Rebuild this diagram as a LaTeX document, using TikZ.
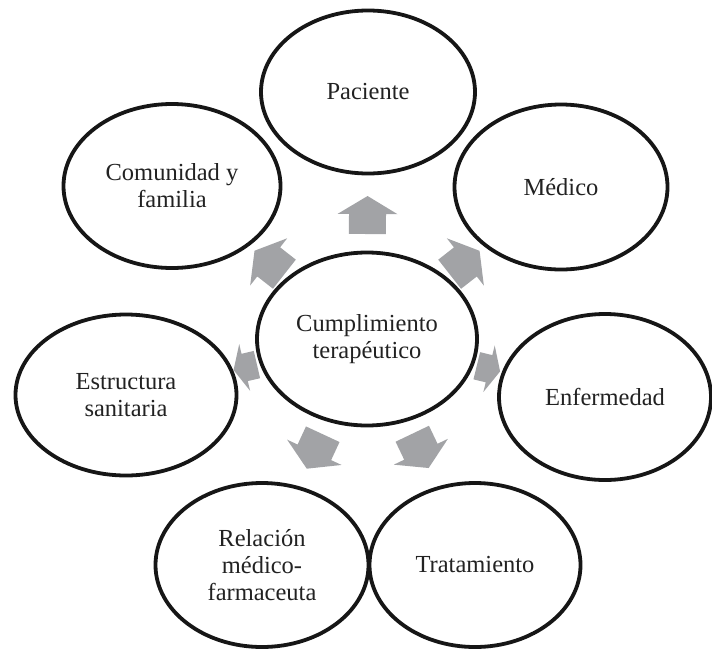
\documentclass[tikz,border=0pt]{standalone}
\usepackage{fontspec}
\setmainfont{Liberation Serif}
\usetikzlibrary{shapes.geometric,calc,backgrounds}
\definecolor{arrgray}{RGB}{162,163,166}
\definecolor{inkline}{RGB}{22,22,22}
\definecolor{inktext}{RGB}{34,34,34}
\tikzset{
  bubble/.style={ellipse, draw=inkline, line width=3.8pt, fill=white, inner sep=0pt,
    align=center, text=inktext, font=\fontsize{24.5}{27}\selectfont},
  blockarrow/.style={fill=arrgray, draw=none}
}
\begin{document}
\begin{tikzpicture}[x=1pt,y=-1pt]
\useasboundingbox (0,0) rectangle (712,648);
\node[bubble, minimum width=220pt, minimum height=173pt] (ctr) at (367,339) {Cumplimiento\\terapéutico};
\node[bubble, minimum width=214pt, minimum height=163pt] (pac) at (368,92) {Paciente};
\node[bubble, minimum width=213pt, minimum height=165pt] (med) at (561,187) {Médico};
\node[bubble, minimum width=212pt, minimum height=166pt] (enf) at (605,397) {Enfermedad};
\node[bubble, minimum width=211pt, minimum height=164pt] (tra) at (475,565) {Tratamiento};
\node[bubble, minimum width=213pt, minimum height=164pt] (rel) at (262,565) {Relación\\médico-\\farmaceuta};
\node[bubble, minimum width=221pt, minimum height=161pt] (est) at (126,395) {Estructura\\sanitaria};
\node[bubble, minimum width=217pt, minimum height=164pt] (com) at (172,186) {Comunidad y\\familia};
\begin{pgfonlayer}{background}
% \t: target node, \r: distance from centre, \h: half length, \s: half shaft width, \w: half head width
\foreach \t/\r/\h/\s/\w in {pac/124/19/18.5/30, med/124/19/18.5/30, enf/125/12/14/24,
    tra/124/19/18.5/30, rel/124/19/18.5/30, est/125/12/14/24, com/124/19/18.5/30}{
  \fill[blockarrow] let \p1=($(\t)-(ctr)$), \n1={atan2(\y1,\x1)}, \p2=($(ctr)!\r pt!(\t)$) in
    ($(\p2)+(\n1:-\h pt)+(\n1+90:\s pt)$) --
    ($(\p2)+(\n1:0.05*\h pt)+(\n1+90:\s pt)$) --
    ($(\p2)+(\n1:0.05*\h pt)+(\n1+90:\w pt)$) --
    ($(\p2)+(\n1:\h pt)$) --
    ($(\p2)+(\n1:0.05*\h pt)+(\n1-90:\w pt)$) --
    ($(\p2)+(\n1:0.05*\h pt)+(\n1-90:\s pt)$) --
    ($(\p2)+(\n1:-\h pt)+(\n1-90:\s pt)$) -- cycle;
}
\end{pgfonlayer}
\end{tikzpicture}
\end{document}
